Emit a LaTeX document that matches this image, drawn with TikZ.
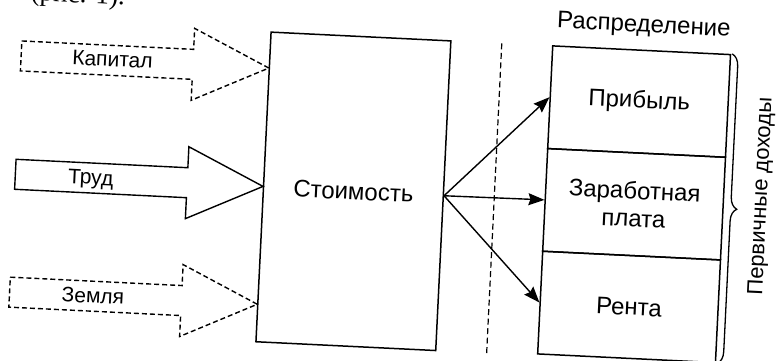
\documentclass[tikz,border=0pt]{standalone}
\usepackage{fontspec}
\setmainfont{Liberation Sans}
\newfontfamily\bodyserif{Liberation Serif}
\usetikzlibrary{arrows.meta,decorations.pathreplacing}
\begin{document}
\begin{tikzpicture}[x=1pt,y=1pt,
  lbl/.style={font=\fontsize{21}{25}\selectfont, inner sep=0pt, align=center},
  biglbl/.style={font=\fontsize{24}{28}\selectfont, inner sep=0pt, align=center},
  inarrow/.style={line width=1.4pt, line join=miter},
  dashfive/.style={dash pattern=on 5pt off 3pt},
  mainbox/.style={draw, line width=1.5pt, minimum width=180pt, minimum height=310pt, inner sep=0pt, font=\fontsize{24}{28}\selectfont},
  partbox/.style={draw, line width=1.5pt, minimum width=178pt, minimum height=102.8pt, inner sep=0pt, align=center, font=\fontsize{24}{28}\selectfont},
  flow/.style={line width=1.4pt, -{Stealth[length=16pt,width=12pt,inset=2pt]}},
]
\useasboundingbox (-388,-180) rectangle (388,180);
\clip (-388,-180) rectangle (388,180);
\begin{scope}[rotate=-2.8, transform shape]
  % cut-off text line at the top
  \node[font=\bodyserif\fontsize{27}{30}\selectfont, anchor=base, inner sep=0pt] (cap) at (-336,162) {ли (рис. 1).};

  % input block arrows
  \draw[inarrow, dashfive] (-372.5,121) -- ++(172,0) -- ++(0,21) -- ++(76,-36) -- ++(-76,-36) -- ++(0,21) -- ++(-172,0) -- cycle;
  \node[lbl] (kap) at (-281,107) {Капитал};
  \draw[inarrow] (-372.5,2.5) -- ++(172,0) -- ++(0,21) -- ++(76,-36) -- ++(-76,-36) -- ++(0,21) -- ++(-172,0) -- cycle;
  \node[lbl] (trud) at (-297,-14) {Труд};
  \draw[inarrow, dashfive] (-372.5,-115.5) -- ++(172,0) -- ++(0,21) -- ++(76,-36) -- ++(-76,-36) -- ++(0,21) -- ++(-172,0) -- cycle;
  \node[lbl] (zem) at (-289,-130) {Земля};

  % value box
  \node[mainbox] (cost) at (-34,-13) {Стоимость};

  % dashed separator
  \coordinate (vtop) at (107,142);
  \coordinate (vbot) at (107,-168);
  \draw[line width=1.2pt, dash pattern=on 6pt off 3.5pt] (vtop) -- (vbot);

  % distribution
  \node[partbox] (prib) at (247,90.6) {Прибыль};
  \node[partbox] (zp) at (247,-12.2) {Заработная\\плата};
  \node[partbox] (rent) at (247,-115) {Рента};
  \node[biglbl] (raspr) at (248,166) {Распределение};

  \draw[flow] (cost.east) -- (prib.west);
  \draw[flow] (cost.east) -- (zp.west);
  \draw[flow] (cost.east) -- (rent.west);

  % brace
  \draw[line width=1.3pt, decorate, decoration={brace, amplitude=12pt}]
    ([xshift=1pt]prib.north east) -- ([xshift=1pt]rent.south east);
  \node[font=\fontsize{22}{26}\selectfont, inner sep=0pt, rotate=90] (dox) at (374,2) {Первичные доходы};
\end{scope}
\end{tikzpicture}
\end{document}
